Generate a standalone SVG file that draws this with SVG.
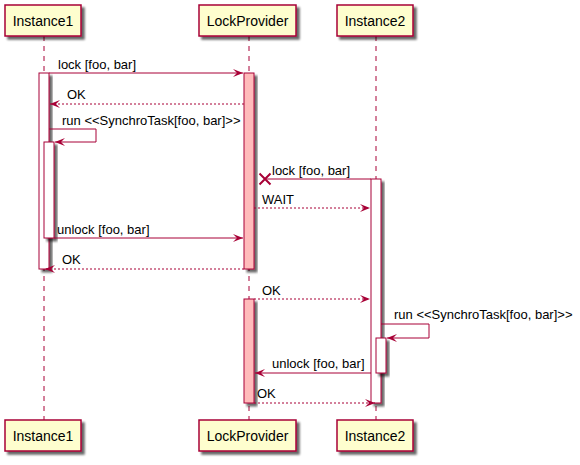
<svg xmlns="http://www.w3.org/2000/svg" width="580" height="465" viewBox="0 0 580 465">
  <defs>
    <filter id="shadow" x="-20%" y="-20%" width="160%" height="160%">
      <feGaussianBlur in="SourceAlpha" stdDeviation="1.3"/>
      <feOffset dx="3" dy="3" result="o"/>
      <feComponentTransfer><feFuncA type="linear" slope="0.6"/></feComponentTransfer>
      <feMerge><feMergeNode/><feMergeNode in="SourceGraphic"/></feMerge>
    </filter>
    <marker id="head" viewBox="0 0 10 8" refX="10" refY="4" markerWidth="10" markerHeight="8" markerUnits="userSpaceOnUse" orient="auto">
      <polygon points="0,0 10,4 0,8 4,4" fill="#A80036"/>
    </marker>
  </defs>
  <style>
    .box { fill: #FEFECE; stroke: #A80036; stroke-width: 1.5; }
    .life { stroke: #A80036; stroke-width: 1; stroke-dasharray: 5,5; fill: none; }
    .act { fill: #FFFFFF; stroke: #A80036; stroke-width: 1; }
    .actp { fill: #FFBBBB; stroke: #A80036; stroke-width: 1; }
    .msg { stroke: #A80036; stroke-width: 1; fill: none; marker-end: url(#head); }
    .ret { stroke: #A80036; stroke-width: 1; fill: none; stroke-dasharray: 2,2; marker-end: url(#head); }
    .pname { font-family: "Liberation Sans", Arial, sans-serif; font-size: 14px; fill: #000; text-anchor: middle; }
    .lbl { font-family: "Liberation Sans", Arial, sans-serif; font-size: 13px; fill: #000; }
  </style>

  <!-- lifelines -->
  <g id="lifelines">
    <line class="life" x1="44" y1="36" x2="44" y2="420"/>
    <line class="life" x1="249" y1="36" x2="249" y2="420"/>
    <line class="life" x1="376" y1="36" x2="376" y2="420"/>
  </g>

  <!-- participants -->
  <g id="instance1">
    <rect class="box" x="5" y="5" width="76" height="31" filter="url(#shadow)"/>
    <text class="pname" x="43" y="25.5">Instance1</text>
    <rect class="box" x="5" y="420" width="76" height="31" filter="url(#shadow)"/>
    <text class="pname" x="43" y="440.5">Instance1</text>
  </g>
  <g id="lockprovider">
    <rect class="box" x="199" y="5" width="97" height="31" filter="url(#shadow)"/>
    <text class="pname" x="247.5" y="25.5">LockProvider</text>
    <rect class="box" x="199" y="420" width="97" height="31" filter="url(#shadow)"/>
    <text class="pname" x="247.5" y="440.5">LockProvider</text>
  </g>
  <g id="instance2">
    <rect class="box" x="337" y="5" width="76" height="31" filter="url(#shadow)"/>
    <text class="pname" x="375" y="25.5">Instance2</text>
    <rect class="box" x="337" y="420" width="76" height="31" filter="url(#shadow)"/>
    <text class="pname" x="375" y="440.5">Instance2</text>
  </g>

  <!-- activation bars -->
  <g id="activations">
    <rect class="act" x="39" y="73" width="10" height="196" filter="url(#shadow)"/>
    <rect class="act" x="44" y="142" width="10" height="96" filter="url(#shadow)"/>
    <rect class="actp" x="244" y="73" width="10" height="196" filter="url(#shadow)"/>
    <rect class="actp" x="244" y="299" width="10" height="104" filter="url(#shadow)"/>
    <rect class="act" x="371" y="179" width="10" height="224" filter="url(#shadow)"/>
    <rect class="act" x="376" y="338" width="10" height="35" filter="url(#shadow)"/>
  </g>

  <!-- messages -->
  <g id="connectors">
    <line class="msg" x1="49" y1="73" x2="243" y2="73"/>
    <text class="lbl" x="58" y="69">lock [foo, bar]</text>

    <line class="ret" x1="244" y1="104" x2="50" y2="104"/>
    <text class="lbl" x="67" y="99">OK</text>

    <polyline class="msg" points="49,129 96,129 96,142 55,142"/>
    <text class="lbl" x="62" y="125">run &lt;&lt;SynchroTask[foo, bar]&gt;&gt;</text>

    <line stroke="#A80036" stroke-width="1" x1="371" y1="179" x2="265" y2="179"/>
    <path d="M259.5,173.5 L270.5,184.5 M259.5,184.5 L270.5,173.5" stroke="#A80036" stroke-width="2" fill="none"/>
    <text class="lbl" x="272" y="175">lock [foo, bar]</text>

    <line class="ret" x1="254" y1="208" x2="370" y2="208"/>
    <text class="lbl" x="262" y="204">WAIT</text>

    <line class="msg" x1="54" y1="238" x2="243" y2="238"/>
    <text class="lbl" x="57" y="234">unlock [foo, bar]</text>

    <line class="ret" x1="244" y1="269" x2="45" y2="269"/>
    <text class="lbl" x="62" y="264">OK</text>

    <line class="ret" x1="254" y1="299" x2="370" y2="299"/>
    <text class="lbl" x="262" y="295">OK</text>

    <polyline class="msg" points="381,324 429,324 429,338 387,338"/>
    <text class="lbl" x="394" y="319">run &lt;&lt;SynchroTask[foo, bar]&gt;&gt;</text>

    <line class="msg" x1="371" y1="373" x2="255" y2="373"/>
    <text class="lbl" x="272" y="368">unlock [foo, bar]</text>

    <line class="ret" x1="254" y1="403" x2="375" y2="403"/>
    <text class="lbl" x="257" y="398">OK</text>
  </g>
</svg>
